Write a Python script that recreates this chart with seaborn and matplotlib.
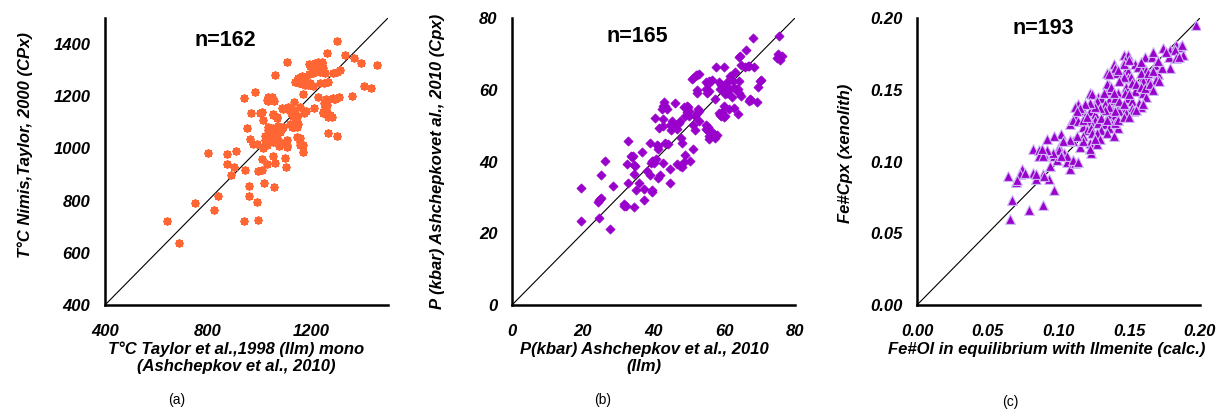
import matplotlib
matplotlib.use("Agg")
import matplotlib.pyplot as plt
import seaborn as sns
import pandas as pd

# ---------------- Panel (a): temperature ----------------
temp_x = [1300, 1262, 1333, 1369, 1394, 1459, 1109, 1194, 1229, 1242,
          1223, 1236, 1255, 1300, 1194, 1164, 1061, 1145, 1155, 1171,
          1190, 1210, 1251, 1266, 1408, 1433, 1171, 983, 942, 1035,
          1041, 1058, 1229, 1259, 1294, 1311, 1359, 1136, 1087, 1106,
          1126, 1132, 1130, 1180, 1214, 1246, 1262, 1266, 1284, 968,
          1010, 1054, 1067, 1015, 953, 1035, 1071, 1091, 1132, 1145,
          1139, 1039, 1054, 1067, 1022, 1054, 1106, 1145, 1158, 1171,
          1268, 1300, 964, 977, 990, 1078, 1109, 1015, 1171, 802,
          873, 909, 1052, 1101, 1010, 873, 1028, 1061, 903, 944,
          996, 1009, 1104, 889, 960, 1019, 1057, 838, 958, 750,
          992, 824, 640, 940, 996, 689,
          1139, 1122, 1145, 1126, 1151, 1119, 1177, 1152, 1197, 1236,
          1229, 1246, 1210, 1028, 1048, 1093, 1113, 1067, 1061, 1080,
          1048, 1028, 1087, 1158, 1255, 1275, 1258, 1158, 1174, 1002,
          1054, 1288, 1288, 1313, 1158, 1139,
          1130, 1136, 1132, 1141, 1135, 1087, 1074, 1041, 1054, 1106,
          1070, 1032, 1253, 1290, 1249, 1177, 1197, 1216, 1242, 1184,
          1035, 1022, 1158]
temp_y = [1410, 1365, 1358, 1348, 1329, 1320, 1333, 1322, 1333, 1326,
          1307, 1294, 1288, 1294, 1284, 1278, 1281, 1262, 1252, 1247,
          1243, 1241, 1250, 1256, 1239, 1233, 1209, 1215, 1193, 1198,
          1186, 1183, 1198, 1190, 1190, 1196, 1201, 1177, 1154, 1150,
          1147, 1141, 1128, 1145, 1154, 1141, 1167, 1122, 1119, 1137,
          1140, 1132, 1115, 1109, 1080, 1081, 1077, 1083, 1090, 1083,
          1096, 1048, 1055, 1039, 1048, 1026, 1032, 1043, 1026, 1013,
          1060, 1049, 1035, 1017, 1017, 1009, 1007, 1000, 988, 984,
          977, 991, 971, 965, 958, 940, 940, 943, 928, 917,
          915, 917, 930, 898, 856, 866, 853, 819, 818, 792,
          793, 764, 723, 723, 726, 639,
          1135, 1137, 1119, 1083, 1092, 1092, 1262, 1269, 1250, 1250,
          1313, 1307, 1288, 1186, 1198, 1150, 1158, 1071, 1058, 1064,
          1039, 1013, 1020, 1039, 1160, 1128, 1147, 1160, 1135, 1135,
          1128, 1192, 1288, 1301, 1250, 1256,
          1147, 1137, 1124, 1099, 1083, 1077, 1086, 1077, 1077, 1013,
          1119, 1183, 1173, 1188, 1135, 1243, 1316, 1326, 1333, 1250,
          1071, 1032, 1013]

# ---------------- Panel (b): pressure ----------------
pres_x = [75.5, 68.1, 66.2, 75.3, 76.4, 75.9, 75.0, 64.1, 64.6, 66.0,
          67.0, 68.4, 63.0, 61.5, 57.7, 60.0, 70.3, 69.5, 52.8, 52.0,
          51.3, 50.9, 54.7, 56.5, 55.6, 52.3, 52.3, 58.4, 58.9, 60.8,
          62.4, 64.1, 61.5, 63.2, 63.9, 60.1, 57.5, 62.2, 64.6, 67.2,
          66.9, 69.3, 62.7, 63.9, 59.9, 58.4, 59.2, 60.3, 59.5, 43.1,
          42.7, 43.8, 46.0, 48.5, 49.7, 50.1, 49.0, 49.5, 51.6, 52.6,
          52.8, 40.5, 42.6, 45.2, 44.7, 47.6, 53.0, 41.6, 42.6, 44.9,
          46.6, 51.2, 51.6, 54.7, 55.1, 55.8, 56.5, 57.0, 58.0, 55.8,
          47.8, 48.0, 43.3, 44.1, 32.9, 39.1, 40.9, 41.2, 36.7, 33.6,
          33.9, 40.8, 40.0, 51.3, 48.8, 50.4, 48.5, 46.6, 48.0, 47.6,
          26.3, 32.4, 34.8, 39.5, 39.2, 42.8, 38.1, 44.7, 34.5, 39.0,
          41.9, 41.2, 25.1, 32.9, 35.9, 44.7, 28.6, 19.4, 35.1, 37.4,
          39.7, 39.5, 25.1, 24.4, 24.9, 37.2, 31.8, 32.1, 34.5, 24.6,
          19.5, 27.7,
          52.3, 55.8, 55.3, 54.9, 55.2, 59.2, 60.3, 62.8, 60.8, 64.1,
          42.4, 49.5, 50.1, 52.3, 54.7, 55.4, 57.3, 58.9, 59.9, 61.3,
          67.7, 66.8, 64.4, 70.0, 43.3, 45.2, 47.1, 41.2, 34.1, 39.8,
          34.6, 31.8, 24.7]
pres_y = [74.9, 74.3, 71.0, 70.0, 69.3, 68.2, 68.9, 69.1, 67.0, 66.4,
          66.7, 66.4, 64.9, 63.8, 66.4, 66.4, 62.7, 60.8, 64.5, 64.0,
          63.3, 62.9, 62.2, 62.7, 59.6, 59.8, 59.1, 62.1, 60.1, 62.2,
          62.4, 62.4, 60.1, 60.1, 60.1, 58.7, 57.5, 58.0, 58.2, 57.5,
          56.8, 56.7, 55.0, 53.3, 55.4, 53.4, 52.7, 52.8, 53.8, 56.5,
          55.4, 54.7, 56.4, 55.2, 55.2, 54.0, 52.8, 53.8, 52.8, 54.7,
          54.0, 52.2, 51.9, 51.3, 50.1, 51.4, 51.3, 49.4, 49.9, 48.8,
          49.1, 50.3, 48.9, 50.1, 48.9, 47.1, 48.2, 47.6, 47.3, 46.4,
          46.6, 45.1, 45.2, 44.8, 45.7, 45.1, 44.5, 43.6, 42.7, 41.5,
          41.3, 40.8, 39.7, 43.6, 41.8, 40.1, 39.9, 39.2, 38.6, 38.8,
          40.1, 39.4, 38.7, 40.1, 39.5, 39.5, 37.4, 37.8, 36.4, 36.2,
          36.2, 35.5, 36.2, 33.9, 34.1, 34.1, 33.2, 32.7, 32.1, 32.3,
          32.1, 31.5, 29.9, 28.7, 29.5, 29.2, 27.6, 27.6, 27.2, 24.2,
          23.3, 21.3,
          64.2, 62.4, 61.7, 60.1, 59.1, 61.2, 60.8, 60.4, 59.1, 59.1,
          54.5, 55.4, 52.8, 53.4, 49.1, 49.7, 46.6, 53.1, 52.5, 54.5,
          57.1, 66.6, 69.3, 62.4, 55.4, 50.3, 50.8, 44.3, 41.5, 40.1,
          38.9, 28.1, 29.3]

# ---------------- Panel (c): Fe# ----------------
fe_x = [.197, .174, .179, .183, .186, .182, .188, .178, .183, .179,
        .146, .149, .147, .161, .166, .139, .154, .148, .149, .160,
        .162, .168, .170, .134, .140, .141, .149, .151, .160, .162,
        .164, .160, .169, .165, .171, .136, .135, .148, .142, .154,
        .160, .162, .122, .124, .128, .130, .127, .136, .133, .149,
        .152, .157, .143, .148, .152, .158, .138, .114, .112, .117,
        .119, .112, .108, .122, .126, .126, .122, .128, .136, .139,
        .143, .148, .153, .132, .138, .136, .142, .130, .117, .120,
        .123, .124, .127, .102, .097, .092, .110, .117, .122, .127,
        .115, .100, .104, .082, .086, .090, .086, .097, .099, .106,
        .108, .112, .123, .074, .073, .070, .064, .071, .082, .084,
        .089, .093, .097, .067, .089, .079, .066,
        .140, .136, .134, .137, .146, .150, .156, .158, .163, .167,
        .173, .176, .185, .187, .146, .143, .152, .155, .158, .161,
        .165, .167, .147, .150, .140, .143, .146, .136, .140, .133,
        .129, .126, .122, .119, .115, .113, .110, .114, .117, .120,
        .130, .134, .140, .142, .146, .150, .155, .160, .134, .139,
        .129, .122, .126, .117, .113, .108, .103, .100, .096, .092,
        .089, .088, .106, .110, .114, .094, .084, .076, .090, .102,
        .167, .170, .158, .142, .132, .139]
fe_y = [.195, .179, .178, .181, .180, .178, .174, .173, .172, .165,
        .174, .174, .171, .173, .173, .168, .168, .164, .163, .166,
        .164, .167, .161, .162, .162, .162, .158, .159, .159, .158,
        .157, .156, .157, .151, .156, .153, .150, .152, .148, .149,
        .148, .145, .148, .147, .145, .144, .142, .143, .140, .144,
        .142, .141, .138, .137, .137, .138, .136, .140, .138, .136,
        .132, .132, .126, .135, .133, .129, .128, .127, .133, .131,
        .135, .134, .135, .126, .126, .123, .123, .122, .124, .122,
        .123, .120, .120, .119, .118, .116, .114, .118, .113, .112,
        .110, .110, .106, .109, .108, .105, .104, .104, .101, .100,
        .095, .099, .106, .095, .091, .086, .090, .087, .092, .088,
        .091, .088, .080, .073, .070, .066, .060,
        .165, .161, .154, .152, .168, .171, .166, .162, .162, .163,
        .165, .176, .173, .181, .159, .156, .155, .154, .152, .151,
        .154, .150, .148, .147, .144, .142, .140, .138, .135, .136,
        .137, .138, .141, .140, .137, .135, .129, .128, .129, .131,
        .130, .129, .127, .129, .131, .131, .136, .140, .120, .118,
        .116, .109, .116, .114, .118, .115, .114, .108, .106, .108,
        .104, .109, .104, .101, .100, .097, .091, .092, .090, .104,
        .176, .170, .169, .164, .148, .148]

# axis definitions
lims = [(400, 1500), (0, 80), (0, 0.20)]
x_major = [[400, 800, 1200], [0, 20, 40, 60, 80], [0, 0.05, 0.10, 0.15, 0.20]]
x_minor = [[600, 1000, 1400], [10, 30, 50, 70], []]
y_major = [[400, 600, 800, 1000, 1200, 1400], [0, 20, 40, 60, 80], [0, 0.05, 0.10, 0.15, 0.20]]
y_minor = [[500, 700, 900, 1100, 1300], [10, 30, 50, 70], []]
xlabels = ["T°C Taylor et al.,1998 (Ilm) mono\n(Ashchepkov et al., 2010)",
           "P(kbar) Ashchepkov et al., 2010\n(Ilm)",
           "Fe#Ol in equilibrium with Ilmenite (calc.)"]
ylabels = ["T°C Nimis,Taylor, 2000 (CPx)",
           "P (kbar) Ashchepkovet al., 2010 (Cpx)",
           "Fe#Cpx (xenolith)"]
n_labels = ["n=162", "n=165", "n=193"]
panel_tags = ["(a)", "(b)", "(c)"]

sns.set_style("white")
plt.rcParams['font.family'] = ['Liberation Sans', 'DejaVu Sans']
plt.rcParams['text.color'] = 'black'
plt.rcParams['axes.labelcolor'] = 'black'
plt.rcParams['xtick.color'] = 'black'
plt.rcParams['ytick.color'] = 'black'

W, H = 1222, 411
fig = plt.figure(figsize=(W / 100, H / 100), dpi=100)

lefts = [105, 512, 917]
ax_w, ax_top, ax_bot = 283, 18, 305
axes = [fig.add_axes([l / W, (H - ax_bot) / H, ax_w / W, (ax_bot - ax_top) / H]) for l in lefts]

df_a = pd.DataFrame({"x": temp_x, "y": temp_y})
df_b = pd.DataFrame({"x": pres_x, "y": pres_y})
df_c = pd.DataFrame({"x": fe_x, "y": fe_y})

sns.scatterplot(data=df_a, x="x", y="y", ax=axes[0], marker=(8, 2, 0),
                s=22, color="#FF6633", edgecolor="#FF6633", linewidth=1.6, zorder=3)
sns.scatterplot(data=df_b, x="x", y="y", ax=axes[1], marker="D",
                s=22, color="#9900CC", edgecolor="#9900CC", linewidth=0.5, zorder=3)
sns.scatterplot(data=df_c, x="x", y="y", ax=axes[2], marker="^",
                s=50, color="#9900CC", edgecolor="#CFB8F5", linewidth=0.8, zorder=3)

ylab_coords = [(-0.254, 0.557), (-0.237, 0.5), (-0.226, 0.53)]
xlab_x = [0.463, 0.466, 0.459]
n_pos = [(225, 41), (637, 37), (1043, 28)]
tag_pos = [(177, 400), (603, 400), (1010, 402)]

for i, ax in enumerate(axes):
    lo, hi = lims[i]
    ax.plot([lo, hi], [lo, hi], color="black", lw=0.8, zorder=2)
    ax.set_xlim(lo, hi)
    ax.set_ylim(lo, hi)
    for side in ["top", "right"]:
        ax.spines[side].set_visible(False)
    for side in ["left", "bottom"]:
        ax.spines[side].set_linewidth(1.8)
        ax.spines[side].set_color("black")
    ax.set_xticks(x_major[i])
    ax.set_yticks(y_major[i])
    ax.set_xticks(x_minor[i], minor=True)
    ax.set_yticks(y_minor[i], minor=True)
    if i == 2:
        ax.set_xticklabels([f"{v:.2f}" for v in x_major[i]])
        ax.set_yticklabels([f"{v:.2f}" for v in y_major[i]])
    ax.tick_params(axis="both", which="both", direction="out", length=3.5,
                   width=1.5, color="black", labelcolor="black")
    ax.tick_params(axis="x", which="major", pad=10)
    ax.tick_params(axis="y", which="major", pad=7)
    for lab in ax.get_xticklabels() + ax.get_yticklabels():
        lab.set_fontsize(12)
        lab.set_fontweight("bold")
        lab.set_fontstyle("italic")
    ax.set_xlabel(xlabels[i], fontsize=12, fontweight="bold", fontstyle="italic",
                  linespacing=1.15, color="black")
    ax.set_ylabel(ylabels[i], fontsize=12, fontweight="bold", fontstyle="italic",
                  color="black")
    ax.xaxis.set_label_coords(xlab_x[i], -0.128)
    ax.yaxis.set_label_coords(*ylab_coords[i])
    fig.text(n_pos[i][0] / W, 1 - n_pos[i][1] / H, n_labels[i], fontsize=15.5,
             fontweight="bold", ha="center", va="center", color="black")
    fig.text(tag_pos[i][0] / W, 1 - tag_pos[i][1] / H, panel_tags[i], fontsize=10,
             ha="center", va="center", color="black")
    ax.set_facecolor("white")

fig.savefig("out.png", dpi=100, facecolor="white")
